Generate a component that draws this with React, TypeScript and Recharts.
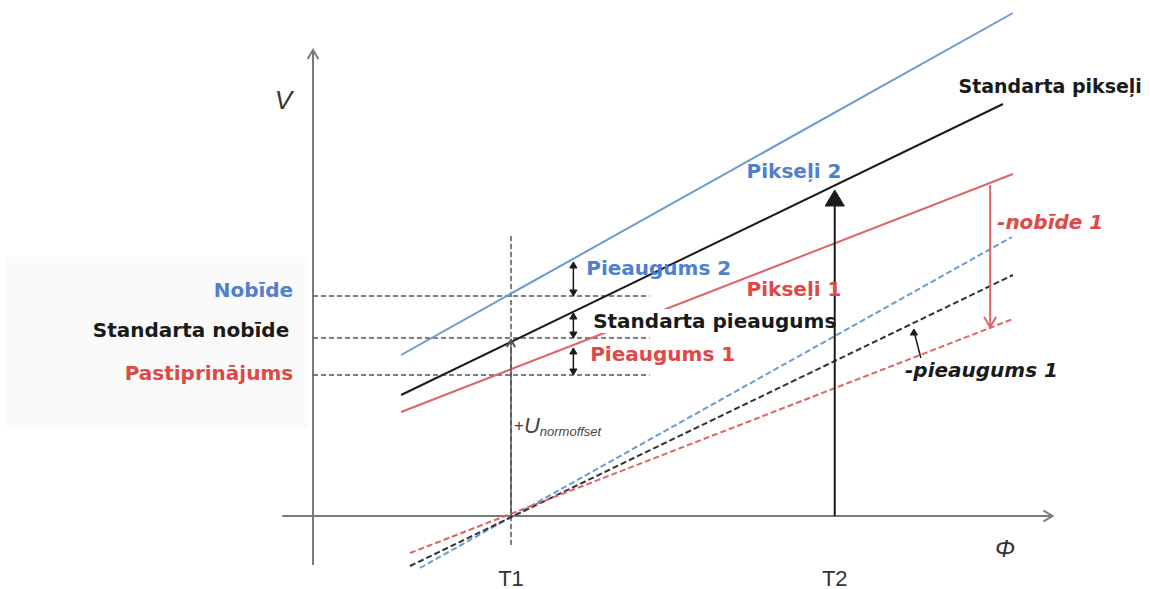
import React from "react";
import { LineChart, Line, XAxis, YAxis, ReferenceLine, ReferenceDot, ReferenceArea } from "recharts";

// Φ on x (T1 = 2), V on y
const T1 = 2;
const T2 = 5.27;

const pikseli2 = [{ phi: 0.89, v: 8.05 }, { phi: 7.07, v: 25.15 }];
const standartaPikseli = [{ phi: 0.89, v: 6.05 }, { phi: 6.97, v: 20.6 }];
const pikseli1 = [{ phi: 0.89, v: 5.2 }, { phi: 7.07, v: 17.1 }];

const pieaugums2Base = [{ phi: 1.08, v: -2.6 }, { phi: 7.06, v: 13.95 }];
const standartaBase = [{ phi: 0.98, v: -2.5 }, { phi: 7.07, v: 12.05 }];
const pieaugums1Base = [{ phi: 0.98, v: -1.85 }, { phi: 7.07, v: 9.85 }];

const levels = { nobide: 11.0, standartaNobide: 8.9, pastiprinajums: 7.05 };
const levelEnd = 3.4;
const t2Top = 16.3;
const uOffsetTop = 8.8;
const nobide1 = { phi: 6.84, from: 16.55, to: 9.45 };
const smallArrowPhi = 2.63;
const smallArrows = [
  [12.7, 11.0],
  [10.15, 8.9],
  [8.4, 7.05],
];

const BLUE = "#6b9bd2";
const BLUE_T = "#4f7fcf";
const RED = "#e06464";
const RED_T = "#e04848";
const BLACK = "#1a1a1a";
const GRAY = "#7a7a7a";
const FONT = "'DejaVu Sans', 'Noto Sans', sans-serif";

type Dir = "up" | "down" | "right";

function Head({ cx, cy, dir, color, size = 8, filled = false }: any) {
  const s = size;
  const w = s * 0.6;
  let pts: number[][] = [];
  if (dir === "up") pts = [[cx - w, cy + s], [cx, cy], [cx + w, cy + s]];
  if (dir === "down") pts = [[cx - w, cy - s], [cx, cy], [cx + w, cy - s]];
  if (dir === "right") pts = [[cx - s, cy - w], [cx, cy], [cx - s, cy + w]];
  const d = pts.map((p) => p.join(",")).join(" ");
  return filled ? (
    <polygon points={d} fill={color} stroke={color} strokeWidth={1} />
  ) : (
    <polyline points={d} fill="none" stroke={color} strokeWidth={2} />
  );
}

function arrowDot(key: string, x: number, y: number, dir: Dir, color: string, size?: number, filled?: boolean) {
  return (
    <ReferenceDot
      key={key}
      x={x}
      y={y}
      r={0}
      shape={(p: any) => <Head cx={p.cx} cy={p.cy} dir={dir} color={color} size={size} filled={filled} />}
    />
  );
}

type Note = {
  text: string;
  x: number;
  y: number;
  color: string;
  anchor?: "start" | "middle" | "end";
  italic?: boolean;
  bold?: boolean;
  size?: number;
  bg?: number;
};

const notes: Note[] = [
  { text: "Nobīde", x: -0.2, y: 11.3, color: BLUE_T, anchor: "end" },
  { text: "Standarta nobīde", x: -0.24, y: 9.3, color: BLACK, anchor: "end" },
  { text: "Pastiprinājums", x: -0.2, y: 7.15, color: RED_T, anchor: "end" },
  { text: "Pikseļi 2", x: 4.38, y: 17.25, color: BLUE_T },
  { text: "Standarta pikseļi", x: 6.52, y: 21.5, color: BLACK, size: 19 },
  { text: "-nobīde 1", x: 6.91, y: 14.7, color: RED_T, italic: true },
  { text: "Pieaugums 2", x: 2.76, y: 12.4, color: BLUE_T },
  { text: "Pikseļi 1", x: 4.38, y: 11.35, color: RED_T },
  { text: "Standarta pieaugums", x: 2.83, y: 9.75, color: BLACK, bg: 92 },
  { text: "Pieaugums 1", x: 2.8, y: 8.1, color: RED_T, bg: 60 },
  { text: "-pieaugums 1", x: 5.98, y: 7.3, color: BLACK, italic: true },
  { text: "V", x: -0.3, y: 20.8, color: "#333", anchor: "middle", italic: true, bold: false, size: 26 },
  { text: "Φ", x: 6.99, y: -1.6, color: "#333", anchor: "middle", italic: true, bold: false, size: 24 },
  { text: "T1", x: T1, y: -3.1, color: "#333", anchor: "middle", bold: false, size: 22 },
  { text: "T2", x: T2, y: -3.1, color: "#333", anchor: "middle", bold: false, size: 22 },
];

function NoteShape({ cx, cy, note }: { cx: number; cy: number; note: Note }) {
  const anchor = note.anchor ?? "start";
  const size = note.size ?? 20;
  return (
    <g>
      {note.bg ? <rect x={cx - 4} y={cy - 12} width={note.bg} height={24} fill="#fff" /> : null}
      <text
        x={cx}
        y={cy}
        textAnchor={anchor}
        dominantBaseline="central"
        fill={note.color}
        fontFamily={note.bold === false ? "'Liberation Sans', Arial, sans-serif" : FONT}
        fontWeight={note.bold === false ? 400 : 700}
        fontStyle={note.italic ? "italic" : "normal"}
        fontSize={size}
      >
        {note.text}
      </text>
    </g>
  );
}

export default function App() {
  const dash = { strokeDasharray: "6 3", strokeWidth: 2 };
  const hdash = { stroke: "#555", strokeDasharray: "5 3", strokeWidth: 1.5 };
  const common = { dot: false, activeDot: false, isAnimationActive: false, dataKey: "v" } as const;
  return (
    <div style={{ position: "absolute", left: 0, top: 0, background: "#fff" }}>
      <LineChart width={1150} height={589} margin={{ top: 0, right: 0, bottom: 0, left: 0 }}>
        <XAxis type="number" dataKey="phi" domain={[-313 / 99, 837 / 99]} allowDataOverflow hide />
        <YAxis type="number" dataKey="v" domain={[-73 / 20, 516 / 20]} allowDataOverflow hide />
        <ReferenceArea x1={-3.1} x2={-0.05} y1={4.4} y2={12.95} fill="#fafafa" fillOpacity={1} stroke="none" />

        {/* axes */}
        <ReferenceLine segment={[{ x: -0.31, y: 0 }, { x: 7.45, y: 0 }]} stroke={GRAY} strokeWidth={2} />
        <ReferenceLine segment={[{ x: 0, y: -2.45 }, { x: 0, y: 23.2 }]} stroke={GRAY} strokeWidth={2} />
        {arrowDot("ax", 7.47, 0, "right", GRAY, 9)}
        {arrowDot("ay", 0, 23.3, "up", GRAY, 9)}

        {/* level guides */}
        <ReferenceLine segment={[{ x: 0, y: levels.nobide }, { x: levelEnd, y: levels.nobide }]} {...hdash} />
        <ReferenceLine segment={[{ x: 0, y: levels.standartaNobide }, { x: levelEnd, y: levels.standartaNobide }]} {...hdash} />
        <ReferenceLine segment={[{ x: 0, y: levels.pastiprinajums }, { x: levelEnd, y: levels.pastiprinajums }]} {...hdash} />
        <ReferenceLine segment={[{ x: T1, y: -1.45 }, { x: T1, y: 14.15 }]} {...hdash} />

        <Line data={pieaugums2Base} stroke={BLUE} {...dash} {...common} />
        <Line data={standartaBase} stroke="#333" {...dash} {...common} />
        <Line data={pieaugums1Base} stroke={RED} {...dash} {...common} />
        <Line data={pikseli2} stroke={BLUE} strokeWidth={2} {...common} />
        <Line data={standartaPikseli} stroke={BLACK} strokeWidth={2} {...common} />
        <Line data={pikseli1} stroke={RED} strokeWidth={2} {...common} />

        {/* vertical arrows */}
        <ReferenceLine segment={[{ x: T1, y: 0 }, { x: T1, y: uOffsetTop }]} stroke="#555" strokeWidth={1.5} />
        {arrowDot("au", T1, uOffsetTop, "up", "#555", 7)}
        <ReferenceLine segment={[{ x: T2, y: 0 }, { x: T2, y: t2Top - 0.5 }]} stroke={BLACK} strokeWidth={2} />
        {arrowDot("at2", T2, t2Top, "up", BLACK, 16, true)}
        <ReferenceLine segment={[{ x: nobide1.phi, y: nobide1.from }, { x: nobide1.phi, y: nobide1.to }]} stroke={RED} strokeWidth={2} />
        {arrowDot("an1", nobide1.phi, nobide1.to, "down", RED, 10)}
        {smallArrows.map(([a, b], i) => [
          <ReferenceLine key={"sl" + i} segment={[{ x: smallArrowPhi, y: a }, { x: smallArrowPhi, y: b }]} stroke={BLACK} strokeWidth={1.5} />,
          arrowDot("su" + i, smallArrowPhi, a, "up", BLACK, 6, true),
          arrowDot("sd" + i, smallArrowPhi, b, "down", BLACK, 6, true),
        ])}
        <ReferenceLine segment={[{ x: 6.14, y: 7.9 }, { x: 6.07, y: 9.25 }]} stroke={BLACK} strokeWidth={1.5} />
        {arrowDot("ap1", 6.07, 9.35, "up", BLACK, 6, true)}

        {notes.map((n, i) => (
          <ReferenceDot key={"n" + i} x={n.x} y={n.y} r={0} shape={(p: any) => <NoteShape cx={p.cx} cy={p.cy} note={n} />} />
        ))}
        <ReferenceDot
          x={2.03}
          y={4.55}
          r={0}
          shape={(p: any) => (
            <text x={p.cx} y={p.cy} fill="#444" fontFamily="'Liberation Sans', Arial, sans-serif" dominantBaseline="central">
              <tspan fontSize={17}>+</tspan>
              <tspan fontSize={22} fontStyle="italic">U</tspan>
              <tspan fontSize={13} fontStyle="italic" dy={6}>normoffset</tspan>
            </text>
          )}
        />
      </LineChart>
    </div>
  );
}
